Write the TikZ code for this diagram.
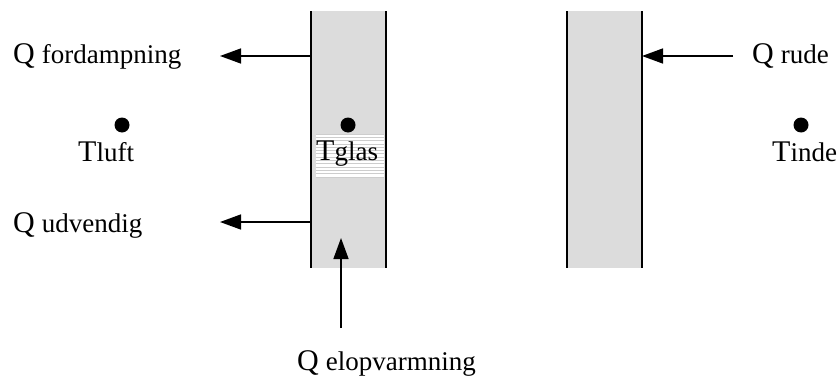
\documentclass[tikz,border=0pt]{standalone}
\usepackage{fontspec}
\setmainfont{Liberation Serif}
\usetikzlibrary{arrows.meta}
\definecolor{panegray}{RGB}{220,220,220}
\definecolor{stripegray}{RGB}{205,205,205}
\newcommand{\bigQ}[1]{{\fontsize{30}{30}\selectfont #1}}
\newcommand{\smalltxt}[1]{{\fontsize{27}{27}\selectfont #1}}
\tikzset{
  paneline/.style={line width=2pt, black},
  flowarrow/.style={line width=1.5pt, -{Triangle[length=21pt,width=15pt]}},
  dotnode/.style={circle, fill=black, inner sep=0pt, minimum size=15pt},
  lbl/.style={inner sep=0pt, anchor=base west}
}
\begin{document}
\begin{tikzpicture}[x=1pt,y=-1pt]
\useasboundingbox (0,0) rectangle (837,380);
% left pane
\fill[panegray] (311,11) rectangle (386,268);
\draw[paneline] (311,11) -- (311,268);
\draw[paneline] (386,11) -- (386,268);
% right pane
\fill[panegray] (567,11) rectangle (642,268);
\draw[paneline] (567,11) -- (567,268);
\draw[paneline] (642,11) -- (642,268);
% striped label background
\fill[white] (316,134) rectangle (384,178);
\foreach \yy in {134,137.3,...,178.5} {
  \draw[stripegray, line width=0.7pt] (316,\yy) -- (384,\yy);
}
% dots
\node[dotnode] (dluft) at (122,125) {};
\node[dotnode] (dglas) at (348,125) {};
\node[dotnode] (dinde) at (801,125) {};
% labels
\node[lbl] (tluft) at (78,161) {\bigQ{T}\smalltxt{luft}};
\node[lbl] (tglas) at (316,160) {\bigQ{T}\smalltxt{glas}};
\node[lbl] (tinde) at (772,161) {\bigQ{T}\smalltxt{inde}};
\node[lbl] (qford) at (13,63) {\bigQ{Q}\hspace{7pt}\smalltxt{fordampning}};
\node[lbl] (qudv) at (13,232) {\bigQ{Q}\hspace{7pt}\smalltxt{udvendig}};
\node[lbl] (qrude) at (752,63) {\bigQ{Q}\hspace{7pt}\smalltxt{rude}};
\node[lbl] (qelop) at (297,370) {\bigQ{Q}\hspace{7pt}\smalltxt{elopvarmning}};
% arrow end points
\coordinate (fordA) at (311,56);
\coordinate (fordB) at (220,56);
\coordinate (udvA) at (311,222);
\coordinate (udvB) at (220,222);
\coordinate (rudeA) at (733,56);
\coordinate (rudeB) at (642,56);
\coordinate (elopA) at (341,328);
\coordinate (elopB) at (341,238);
\draw[flowarrow] (fordA) -- (fordB);
\draw[flowarrow] (udvA) -- (udvB);
\draw[flowarrow] (rudeA) -- (rudeB);
\draw[flowarrow] (elopA) -- (elopB);
\end{tikzpicture}
\end{document}
